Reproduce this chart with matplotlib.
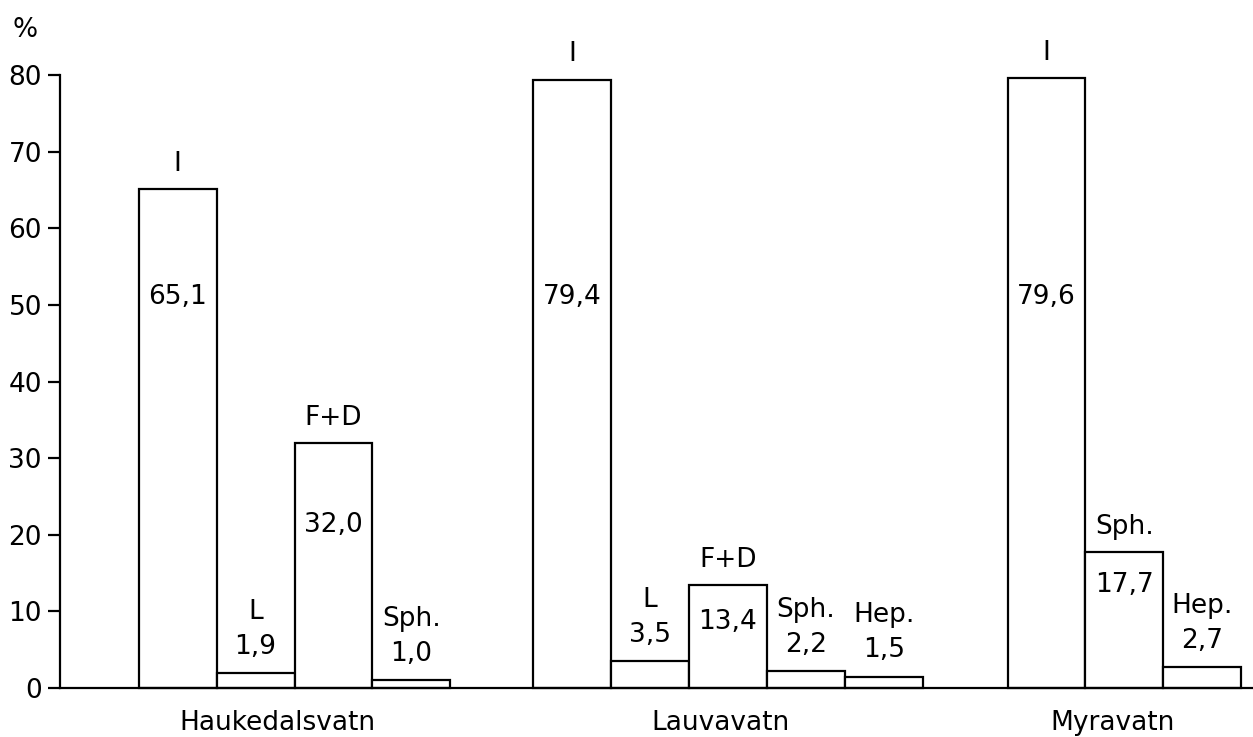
import matplotlib
matplotlib.use("Agg")
import matplotlib.pyplot as plt

# ── Data ──────────────────────────────────────────────────────────
lakes = ["Haukedalsvatn", "Lauvavatn", "Myravatn"]

hauk_taxa = ["I", "L", "F+D", "Sph."]
hauk_vals = [65.1, 1.9, 32.0, 1.0]

lauv_taxa = ["I", "L", "F+D", "Sph.", "Hep."]
lauv_vals = [79.4, 3.5, 13.4, 2.2, 1.5]

myra_taxa = ["I", "Sph.", "Hep."]
myra_vals = [79.6, 17.7, 2.7]

yticks = [0, 10, 20, 30, 40, 50, 60, 70, 80]

# ── Layout (positions / styles only) ─────────────────────────────
group_start = [0, 5.06, 11.15]     # bar slot where each lake starts
lake_pos = [1.28, 6.97, 12.0]      # where the lake names sit
inner_y = [                        # y of value text drawn inside tall bars
    [51, None, 21.3, None],
    [51, None, 8.6, None, None],
    [51, 13.4, None],
]
FS = 19
LW = 1.6

fig = plt.figure(figsize=(12.53, 7.37), dpi=100)
ax = fig.add_axes([60 / 1253, 49 / 737, 1 - 60 / 1253, 613 / 737])
ax.set_xlim(-1.51, 13.8)
ax.set_ylim(0, 80)

fmt = lambda v: f"{v:.1f}".replace(".", ",")

for g, (taxa, vals) in enumerate(zip([hauk_taxa, lauv_taxa, myra_taxa],
                                     [hauk_vals, lauv_vals, myra_vals])):
    xs = [group_start[g] + i for i in range(len(vals))]
    ax.bar(xs, vals, width=1.0, facecolor="white", edgecolor="black",
           linewidth=LW, zorder=2, clip_on=False)
    for i, (x, v, t) in enumerate(zip(xs, vals, taxa)):
        iy = inner_y[g][i]
        if iy is not None:
            ax.text(x, v + 1.6, t, ha="center", va="bottom", fontsize=FS)
            ax.text(x, iy, fmt(v), ha="center", va="center", fontsize=FS)
        else:
            ax.text(x, v + 1.7, fmt(v), ha="center", va="bottom", fontsize=FS)
            ax.text(x, v + 6.3, t, ha="center", va="bottom", fontsize=FS)

# ── Axes styling ─────────────────────────────────────────────────
for s in ["top", "right"]:
    ax.spines[s].set_visible(False)
ax.spines["left"].set_bounds(0, 80)
ax.spines["left"].set_linewidth(LW)
ax.spines["bottom"].set_linewidth(LW)
ax.set_yticks(yticks)
ax.set_yticklabels([str(t) for t in yticks], fontsize=FS)
ax.tick_params(axis="y", length=9, width=LW, pad=4)
ax.set_xticks(lake_pos)
ax.set_xticklabels(lakes, fontsize=19)
ax.tick_params(axis="x", length=0, pad=16)

fig.text(12 / 1253, 1 - 30 / 737, "%", fontsize=FS, va="center", ha="left")

fig.savefig("out.png", dpi=100, facecolor="white")
